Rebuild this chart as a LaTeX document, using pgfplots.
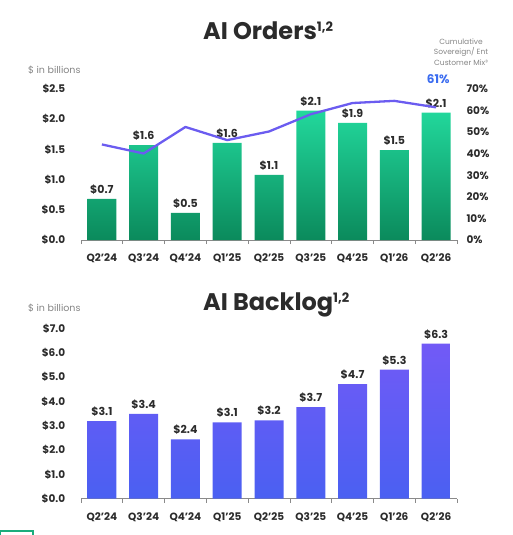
\documentclass[border=0pt]{standalone}
\usepackage{pgfplots}
\usepackage{pgfplotstable}
\pgfplotsset{compat=1.18}
\usepackage{fontspec}
\setmainfont{Poppins}
\definecolor{gtop}{HTML}{22D89C}
\definecolor{gbot}{HTML}{0B8A5C}
\definecolor{ptop}{HTML}{725AF6}
\definecolor{pbot}{HTML}{4A60F2}
\definecolor{linec}{HTML}{6B5CF0}
\definecolor{bluelab}{HTML}{3B6CF0}
\definecolor{txt}{HTML}{2B2B2B}
\definecolor{grayt}{HTML}{858585}
\definecolor{axc}{HTML}{8A8A8A}

\pgfplotstableread{
x h lab
0 0.68 0.7
1 1.57 1.6
2 0.45 0.5
3 1.61 1.6
4 1.08 1.1
5 2.14 2.1
6 1.94 1.9
7 1.49 1.5
8 2.11 2.1
}\orders
\pgfplotstableread{
x p
0 44.3
1 40.1
2 52.4
3 46.3
4 50.3
5 58.3
6 63.5
7 64.5
8 61.5
}\mix
\pgfplotstableread{
x h lab
0 3.19 3.1
1 3.48 3.4
2 2.44 2.4
3 3.14 3.1
4 3.22 3.2
5 3.76 3.7
6 4.71 4.7
7 5.30 5.3
8 6.37 6.3
}\backlog

\pgfplotsset{
  base/.style={
    scale only axis, width=376pt, xmin=-0.5, xmax=8.5,
    clip=false,
    /pgf/number format/assume math mode=true,
    axis x line*=bottom, axis y line*=left,
    y axis line style={draw=none},
    x axis line style={draw=axc, line width=0.7pt},
    ytick style={draw=none},
    xtick={0,...,8},
    xticklabels={Q2'24,Q3'24,Q4'24,Q1'25,Q2'25,Q3'25,Q4'25,Q1'26,Q2'26},
    major x tick style={draw=none},
    minor xtick={-0.5,0.5,...,8.5},
    minor x tick style={draw=axc, line width=0.7pt},
    minor tick length=4pt,
    tick align=outside,
    xticklabel style={font=\bfseries\fontsize{10.5}{12}\selectfont, text=txt, yshift=-6pt},
    yticklabel style={font=\bfseries\fontsize{10.5}{12}\selectfont, text=txt, xshift=-8pt},
  },
  barlbl/.style={
    nodes near coords={\$\pgfmathprintnumber[fixed,fixed zerofill,precision=1,assume math mode=true]{\pgfplotspointmeta}},
    point meta=explicit,
    every node near coord/.append style={font=\bfseries\fontsize{11}{12}\selectfont, text=txt, anchor=south, yshift=1pt},
  },
}

\begin{document}
\begin{tikzpicture}
\path[use as bounding box] (0pt,0pt) rectangle (512pt,-535pt);

% ---------- AI Orders ----------
\node[anchor=base west, inner sep=0pt, text=txt, font=\bfseries\fontsize{24}{26}\selectfont] at (203pt,-40pt) {AI Orders\raisebox{8pt}{\fontsize{13}{13}\selectfont 1,2}};
\node[anchor=west, inner sep=0pt, text=grayt, font=\fontsize{9.5}{11}\selectfont] at (28pt,-70pt) {\$ in billions};
\node[align=center, inner sep=0pt, text=grayt, font=\fontsize{7.5}{10.5}\selectfont] at (461pt,-52pt) {Cumulative\\Sovereign/ Ent\\Customer Mix³};

\begin{axis}[base, at={(81pt,-240pt)}, anchor=south west, height=151pt,
  ymin=0, ymax=2.5, ytick={0,0.5,...,2.5},
  yticklabels={\$0.0,\$0.5,\$1.0,\$1.5,\$2.0,\$2.5}]
\addplot[ybar, bar width=29pt, draw=none, top color=gtop, bottom color=gbot, barlbl]
  table[x=x, y=h, meta=lab] {\orders};
\end{axis}

\begin{axis}[scale only axis, width=376pt, height=151pt, at={(81pt,-240pt)}, anchor=south west,
  xmin=-0.5, xmax=8.5, ymin=0, ymax=70, clip=false,
  axis x line=none, axis y line*=right,
  y axis line style={draw=none}, ytick style={draw=none},
  ytick={0,10,...,70},
  yticklabels={0\%,10\%,20\%,30\%,40\%,50\%,60\%,70\%},
  yticklabel style={font=\bfseries\fontsize{10.5}{12}\selectfont, text=txt, xshift=6pt}]
\addplot[linec, line width=2.3pt, mark=none, line join=round] table[x=x, y=p] {\mix};
\node[text=bluelab, font=\bfseries\fontsize{12}{13}\selectfont] at (axis cs:8.05,74.5) {61\%};
\end{axis}

% ---------- AI Backlog ----------
\node[anchor=base west, inner sep=0pt, text=txt, font=\bfseries\fontsize{24}{26}\selectfont] at (203pt,-310.5pt) {AI Backlog\raisebox{8pt}{\fontsize{13}{13}\selectfont 1,2}};
\node[anchor=west, inner sep=0pt, text=grayt, font=\fontsize{9.5}{11}\selectfont] at (28pt,-308pt) {\$ in billions};

\begin{axis}[base, at={(81pt,-498.7pt)}, anchor=south west, height=170.4pt,
  ymin=0, ymax=7, ytick={0,1,...,7},
  yticklabels={\$0.0,\$1.0,\$2.0,\$3.0,\$4.0,\$5.0,\$6.0,\$7.0}]
\addplot[ybar, bar width=29pt, draw=none, top color=ptop, bottom color=pbot, barlbl]
  table[x=x, y=h, meta=lab] {\backlog};
\end{axis}

\draw[gtop!80!black, line width=1.2pt] (0.6pt,-535pt) -- (0.6pt,-531pt) -- (33pt,-531pt) -- (33pt,-535pt);
\end{tikzpicture}
\end{document}
